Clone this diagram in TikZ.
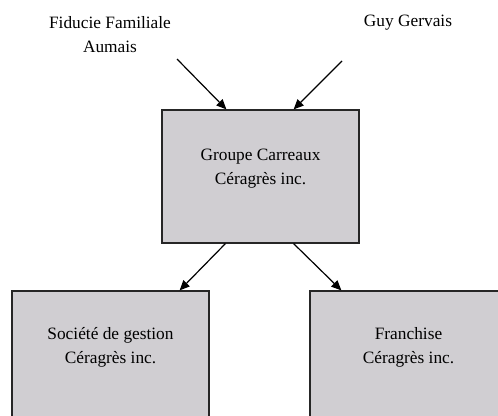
\documentclass[tikz,border=0pt]{standalone}
\usepackage{fontspec}
\setmainfont{Liberation Serif}
\usepackage{xcolor}
\usepackage{tikz}
\usetikzlibrary{arrows.meta,calc}

\definecolor{boxgray}{RGB}{208,206,210}

\begin{document}
\begin{tikzpicture}[x=0.75pt, y=-0.75pt, >={Triangle[length=7.5pt,width=6.5pt]}, line join=miter,
    entity/.style={draw=black!85, fill=boxgray, line width=0.9pt, minimum width=147.75pt, minimum height=99.75pt, inner sep=0pt},
    entitytext/.style={align=center, font=\fontsize{13}{18}\selectfont, inner sep=0pt},
    owner/.style={align=center, font=\fontsize{13}{18}\selectfont, inner sep=0pt},
    link/.style={->, line width=0.9pt}]
  \clip (0,0) rectangle (498,415);
  % boxes
  \node[entity] (groupe) at (260.5,176.5) {};
  \node[entity] (gestion) at (110.5,357.5) {};
  \node[entity] (franchise) at (408.5,357.5) {};
  \node[entitytext] (groupe-t) at (260.5,169) {Groupe Carreaux\\Céragrès inc.};
  \node[entitytext] (gestion-t) at (110.5,347.5) {Société de gestion\\Céragrès inc.};
  \node[entitytext] (franchise-t) at (408.5,347.5) {Franchise\\Céragrès inc.};
  % owners
  \node[owner] (fiducie) at (110,35) {Fiducie Familiale\\Aumais};
  \node[owner] (gervais) at (408,23) {Guy Gervais};
  \coordinate (fiducie-end) at (177,59);
  \coordinate (gervais-end) at (342,61);
  % arrows
  \draw[link] (fiducie-end) -- ($(groupe.north west)+(65,0)$);
  \draw[link] (gervais-end) -- ($(groupe.north east)+(-66,0)$);
  \draw[link] ($(groupe.south west)+(64,0)$) -- ($(gestion.north east)+(-30,0)$);
  \draw[link] ($(groupe.south east)+(-66,0)$) -- ($(franchise.north west)+(32,0)$);
\end{tikzpicture}
\end{document}
